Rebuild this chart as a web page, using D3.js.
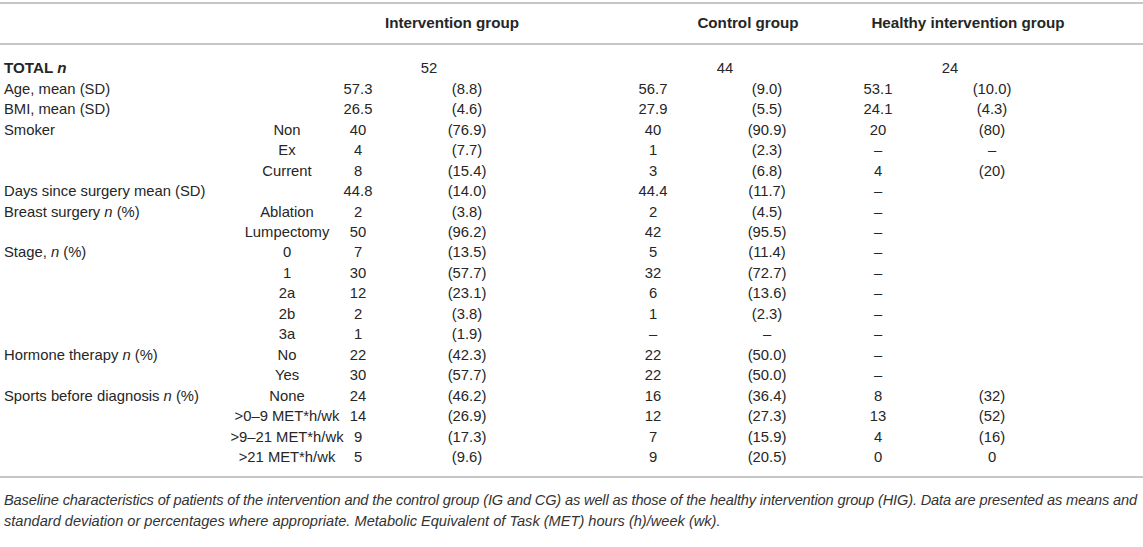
<!DOCTYPE html>
<html>
<head>
<meta charset="utf-8">
<script src="https://cdn.jsdelivr.net/npm/d3@7"></script>
<style>
  html, body { margin: 0; padding: 0; background: #fff; }
  svg { display: block; font-family: "Liberation Sans", Arial, sans-serif; }
</style>
</head>
<body>
<svg id="table" width="1143" height="547"></svg>
<script>
// Baseline characteristics table

// Column groups and their totals
const groups = ["Intervention group", "Control group", "Healthy intervention group"];
const totals = ["52", "44", "24"];

// Row labels (first column) and sub categories (second column)
const rowLabels = ["Age, mean (SD)", "BMI, mean (SD)", "Smoker", "", "", "Days since surgery mean (SD)",
  "Breast surgery n (%)", "", "Stage, n (%)", "", "", "", "", "Hormone therapy n (%)", "",
  "Sports before diagnosis n (%)", "", "", ""];
const subLabels = ["", "", "Non", "Ex", "Current", "", "Ablation", "Lumpectomy", "0", "1", "2a", "2b", "3a",
  "No", "Yes", "None", ">0–9 MET*h/wk", ">9–21 MET*h/wk", ">21 MET*h/wk"];

// Values per group: count / mean, then (percent / SD)
const igN = ["57.3", "26.5", "40", "4", "8", "44.8", "2", "50", "7", "30", "12", "2", "1", "22", "30", "24", "14", "9", "5"];
const igPct = ["(8.8)", "(4.6)", "(76.9)", "(7.7)", "(15.4)", "(14.0)", "(3.8)", "(96.2)", "(13.5)", "(57.7)",
  "(23.1)", "(3.8)", "(1.9)", "(42.3)", "(57.7)", "(46.2)", "(26.9)", "(17.3)", "(9.6)"];
const cgN = ["56.7", "27.9", "40", "1", "3", "44.4", "2", "42", "5", "32", "6", "1", "–", "22", "22", "16", "12", "7", "9"];
const cgPct = ["(9.0)", "(5.5)", "(90.9)", "(2.3)", "(6.8)", "(11.7)", "(4.5)", "(95.5)", "(11.4)", "(72.7)",
  "(13.6)", "(2.3)", "–", "(50.0)", "(50.0)", "(36.4)", "(27.3)", "(15.9)", "(20.5)"];
const higN = ["53.1", "24.1", "20", "–", "4", "–", "–", "–", "–", "–", "–", "–", "–", "–", "–", "8", "13", "4", "0"];
const higPct = ["(10.0)", "(4.3)", "(80)", "–", "(20)", "", "", "", "", "", "", "", "", "", "", "(32)", "(52)", "(16)", "0"];

const caption = [
  "Baseline characteristics of patients of the intervention and the control group (IG and CG) as well as those of the healthy intervention group (HIG). Data are presented as means and",
  "standard deviation or percentages where appropriate. Metabolic Equivalent of Task (MET) hours (h)/week (wk)."
];

// Layout
const config = {
  width: 1143,
  left: 4,
  right: 1143,
  topLine: 3,
  headerY: 23,
  headerLine: 44,
  firstRow: 68,
  lastRow: 457,
  bottomLine: 477,
  captionY: 500,
  captionStep: 21,
  captionWidth: 1133,
  fontSize: 14.8,
  headerSize: 15.2,
  captionSize: 14.6
};

const svg = d3.select("#table");
const textColor = "#262626";
const lineColor = "#c6c6c6";

// Row scale: index 0 = TOTAL row
const rowIndex = d3.range(rowLabels.length + 1);
const y = d3.scalePoint().domain(rowIndex).range([config.firstRow, config.lastRow]);

// Column centers
const colKeys = ["sub", "igN", "igPct", "cgN", "cgPct", "higN", "higPct"];
const x = d3.scaleOrdinal().domain(colKeys).range([287, 358, 467, 653, 767, 878, 992]);
const groupX = d3.scaleOrdinal().domain(groups).range([452, 748, 968]);
const totalX = d3.scaleOrdinal().domain(groups).range([429, 725, 950]);

// Horizontal rules
[config.topLine, config.headerLine, config.bottomLine].forEach(function(ly) {
  svg.append("line")
    .attr("x1", 0).attr("x2", config.right)
    .attr("y1", ly).attr("y2", ly)
    .attr("stroke", lineColor)
    .attr("stroke-width", 2);
});

// Header
svg.selectAll("text.header")
  .data(groups)
  .enter().append("text")
  .attr("class", "header")
  .attr("x", d => groupX(d))
  .attr("y", config.headerY)
  .attr("dy", "0.35em")
  .attr("text-anchor", "middle")
  .attr("font-weight", "bold")
  .attr("font-size", config.headerSize)
  .attr("fill", textColor)
  .text(d => d);

// Label with italic "n"
function addLabel(sel, label) {
  label.split(/(\bn\b)/).forEach(function(part) {
    if (!part) return;
    const t = sel.append("tspan").text(part);
    if (part === "n") t.attr("font-style", "italic");
  });
}

// TOTAL row
const totalLabel = svg.append("text")
  .attr("x", config.left)
  .attr("y", y(0))
  .attr("dy", "0.35em")
  .attr("font-weight", "bold")
  .attr("font-size", config.headerSize)
  .attr("fill", textColor);
addLabel(totalLabel, "TOTAL n");

svg.selectAll("text.total")
  .data(groups)
  .enter().append("text")
  .attr("class", "total")
  .attr("x", d => totalX(d))
  .attr("y", y(0))
  .attr("dy", "0.35em")
  .attr("text-anchor", "middle")
  .attr("font-size", config.fontSize)
  .attr("fill", textColor)
  .text((d, i) => totals[i]);

// Body rows
const rows = rowLabels.map(function(label, i) {
  return {
    idx: i + 1,
    label: label,
    sub: subLabels[i],
    igN: igN[i], igPct: igPct[i],
    cgN: cgN[i], cgPct: cgPct[i],
    higN: higN[i], higPct: higPct[i]
  };
});

const rowG = svg.selectAll("g.row")
  .data(rows)
  .enter().append("g")
  .attr("class", "row")
  .attr("transform", d => `translate(0,${y(d.idx)})`)
  .attr("font-size", config.fontSize)
  .attr("fill", textColor);

rowG.append("text")
  .attr("x", config.left)
  .attr("dy", "0.35em")
  .each(function(d) { addLabel(d3.select(this), d.label); });

colKeys.forEach(function(key) {
  rowG.append("text")
    .attr("x", x(key))
    .attr("dy", "0.35em")
    .attr("text-anchor", "middle")
    .text(d => d[key]);
});

// Caption (first line justified to full width)
svg.selectAll("text.caption")
  .data(caption)
  .enter().append("text")
  .attr("class", "caption")
  .attr("x", config.left)
  .attr("y", (d, i) => config.captionY + i * config.captionStep)
  .attr("dy", "0.35em")
  .attr("font-size", config.captionSize)
  .attr("font-style", "italic")
  .attr("fill", "#333")
  .each(function(d, i) {
    if (i < caption.length - 1) {
      d3.select(this).attr("textLength", config.captionWidth).attr("lengthAdjust", "spacing");
    }
  })
  .text(d => d);
</script>
</body>
</html>
